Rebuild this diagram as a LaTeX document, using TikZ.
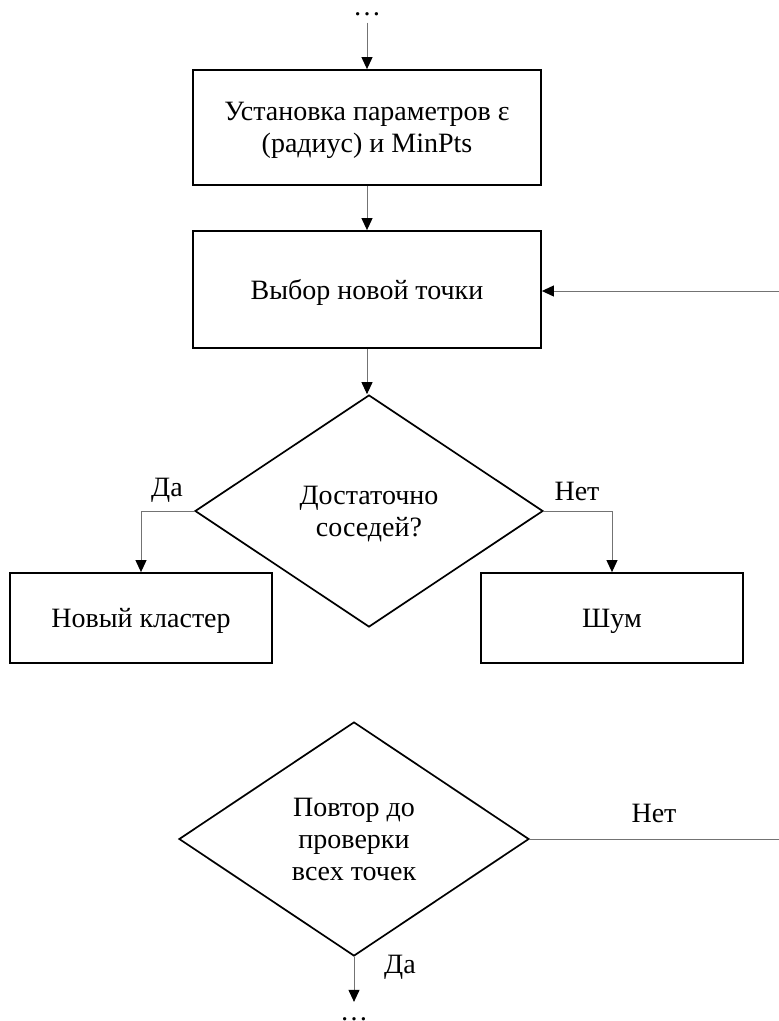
\documentclass[tikz,border=0pt]{standalone}
\usepackage{fontspec}
\setmainfont{Liberation Serif}
\usetikzlibrary{shapes.geometric,arrows.meta}
% line strut: full font ascent and descent, so text sits as in a word processor
\newcommand{\ws}{\rule[-6pt]{0pt}{31pt}}
\begin{document}
\begin{tikzpicture}[x=1pt,y=-1pt,
  every node/.style={font=\fontsize{28}{32}\selectfont},
  block/.style={draw=black,line width=1.8pt,rectangle,minimum width=348pt,
    minimum height=115pt,align=center,inner sep=0pt},
  decision/.style={draw=black,line width=1.7pt,diamond,aspect=1.5,inner sep=0pt,align=center},
  link/.style={draw=black!55,line width=1pt},
  flow/.style={link,-{Triangle[length=12pt,width=11pt,color=black]}},
  lbl/.style={inner sep=0pt}]
\useasboundingbox (0,0) rectangle (779,1021);

% blocks and decisions
\node[lbl,anchor=base] (topdots) at (367,15) {…};
\node[block] (setup) at (367,127.5) {\ws Установка параметров ε\\(радиус) и MinPts\ws};
\node[block,minimum height=117pt] (pick) at (367,289.5) {\ws Выбор новой точки};
\node[decision,minimum width=348pt,minimum height=232pt] (enough) at (369,511)
  {\ws Достаточно\\соседей?\ws};
\node[block,minimum width=262pt,minimum height=90pt] (cluster) at (141,618) {\ws Новый кластер};
\node[block,minimum width=262pt,minimum height=90pt] (noise) at (612,618) {\ws Шум};
\node[decision,minimum width=350pt,minimum height=234pt] (again) at (354,839)
  {\ws Повтор до\\проверки\\всех точек\ws};
\node[lbl,anchor=base] (botdots) at (354,1020) {…};

% branch labels
\node[lbl] (yes1) at (167,490) {Да};
\node[lbl] (no1) at (577,491) {Нет};
\node[lbl] (no2) at (654,813) {Нет};
\node[lbl] (yes2) at (400,967) {Да};

% free ends at the right edge
\coordinate (rin) at (779,291);
\coordinate (rout) at (779,839);

% connectors
\draw[flow] ([yshift=-7pt]topdots.south) -- (setup.north);
\draw[flow] (setup.south) -- (pick.north);
\draw[flow] (pick.south) -- (pick.south |- enough.north);
\draw[flow] (rin) -- (rin -| pick.east);
\draw[flow] (enough.west) -| (cluster.north);
\draw[flow] (enough.east) -| (noise.north);
\draw[link] (again.east) -- (rout);
\draw[flow] (again.south) -- ([yshift=15pt]botdots.north);
\end{tikzpicture}
\end{document}
